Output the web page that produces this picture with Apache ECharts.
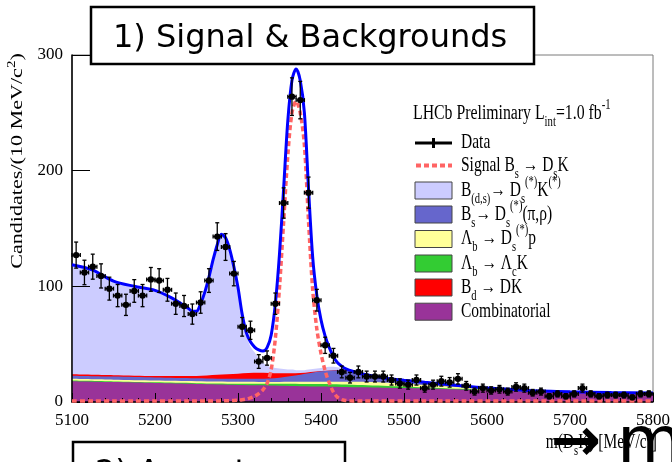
<!DOCTYPE html>
<html><head><meta charset="utf-8">
<script src="https://cdn.jsdelivr.net/npm/echarts@6/dist/echarts.min.js"></script>
<style>html,body{margin:0;padding:0;background:#fff}#c{width:672px;height:462px}</style>
</head><body><div id="c"></div>
<script>
// ---- Data: m(Ds K) histogram, 10 MeV bins ----
const binCenters = [5105,5115,5125,5135,5145,5155,5165,5175,5185,5195,5205,5215,5225,5235,5245,5255,5265,5275,5285,5295,
  5305,5315,5325,5335,5345,5355,5365,5375,5385,5395,5405,5415,5425,5435,5445,5455,5465,5475,5485,5495,
  5505,5515,5525,5535,5545,5555,5565,5575,5585,5595,5605,5615,5625,5635,5645,5655,5665,5675,5685,5695,
  5705,5715,5725,5735,5745,5755,5765,5775,5785,5795];
const candidates = [127,112,117,109,98,92,84,96,92,106,105,97,85,83,76,86,105,143,134,111,
  65,62,35,38,85,172,264,261,181,88,49,40,26,21,26,22,22,22,19,16,
  15,19,12,15,18,17,20,14,9,12,10,11,9,13,12,8,9,5,7,5,
  7,12,7,5,6,6,6,4,7,7];

// ---- Fit curves (read on a mass grid) ----
const fineMass = [5100,5125,5150,5175,5200,5220,5240,5245,5250,5255,5260,5265,5270,5275,5280,5285,5290,5295,5300,
  5305,5310,5315,5320,5325,5330,5335,5340,5345,5350,5355,5360,5365,5370,5375,5380,5385,5390,5395,5400,
  5405,5410,5415,5420,5425,5430,5435,5440,5445,5450,5475,5500,5525,5550,5575,5600,5650,5700,5750,5800];
const fitTotal = [118.6,114,104.5,100,96.5,90,81,78.5,78.5,85,95,108,123,136,145,142,132,117,99,
  76,60,52,47.5,45,44,47,58,85,128,185,243,278,288,278,250,184,125,92,71,
  57,47,39,34,31,28.6,27.3,26.2,25.2,24.2,20.8,18.8,17,15.3,13.6,12,10,8.9,8.2,7.8];
const signalBsDsK = [0.8,0.8,0.8,0.8,0.8,0.8,0.8,0.8,0.8,0.8,0.8,0.8,0.8,0.9,1,1.1,1.2,1.4,1.6,
  2,2.6,3.6,5,7.2,10.5,16,28,55,99,156,213,250,260,250,222,156,97,63,42,
  27,16.5,8.5,4,2,1.3,1,0.9,0.8,0.8,0.8,0.8,0.8,0.8,0.8,0.8,0.8,0.8,0.8,0.8];
// cumulative upper edge of the B(d,s) -> Ds(*) K(*) band
const topDsKstar = [118.6,114,104.5,100,96.5,90,81,78.5,78.5,85,95,108,123,136,145,141,131,115.5,97.5,
  73,57.5,48,43,38,34,31.5,30,29.5,29,28.5,28,28,27.5,27.5,27.5,28,28.5,29,29.5,
  30,30.5,30.5,30,29.3,28.2,27.1,26.1,25.1,24.1,20.7,18.7,16.9,15.2,13.5,11.9,9.9,8.8,8.1,7.7];

// ---- Cumulative upper edges of the lower background bands ----
const coarseMass = [5100,5150,5200,5250,5275,5300,5325,5350,5375,5400,5425,5450,5475,5500,5550,5600,5650,5700,5750,5800];
const topBdDK   = [24,23.2,22.5,22.5,23.5,24.5,25.2,24.8,25,26.7,27.7,23.6,20.4,18.5,15.1,11.8,9.8,8.7,8.0,7.6];
const topDsPi   = [22.8,22,21.2,20.5,20.2,20,20,21,23.5,26.5,27.5,23.5,20.3,18.4,15,11.8,9.8,8.7,8.0,7.6];
const topLbDsp  = [20,19.3,18.6,18,17.7,17.4,17.3,17.3,17.4,17.6,17.6,17.4,16.8,15.8,13.6,11.2,9.6,8.6,7.9,7.3];
const topLbLcK  = [18.5,17.8,17.0,16.3,16.0,15.8,15.7,15.7,15.6,15.5,15.2,14.7,14.0,13.3,11.8,10.4,9.3,8.4,7.7,7.1];
const topComb   = [18,17.2,16.4,15.6,15.2,14.8,14.4,14,13.6,13.3,13,12.7,12.4,12.1,11.3,10.2,9.2,8.3,7.6,7];

const legendLabels = ['Data','Signal B{sb|s} → D{sb|s}K','B{sb|(d,s)}→ D{sb|s}{sp|(*)}K{sp|(*)}','B{sb|s}→ D{sb|s}{sp|(*)}(π,ρ)',
  'Λ{sb|b} → D{sb|s}{sp|(*)}p','Λ{sb|b} → Λ{sb|c}K','B{sb|d} → DK','Combinatorial'];
const headerText = 'LHCb Preliminary L{sb|int}=1.0 fb{sp|-1}';
const yTitle = 'Candidates/(10 MeV/c{sp|2})';
const xTitle = 'm(D{sb|s}K) [MeV/c{sp|2}]';

// ---- Styling ----
const serif = '"Liberation Serif", "Times New Roman", serif';
const sans = '"DejaVu Sans", Verdana, sans-serif';
const C = {lav:'#ccccff', dspi:'#6666cc', yel:'#ffff99', grn:'#33cc33', red:'#ff0000', pur:'#993399', fit:'#0000ff', sig:'#ff6464'};
const pairs = (xs, ys) => xs.map((x, i) => [x, ys[i]]);

function band(name, xs, ys, color) {
  return {type:'line', name, data:pairs(xs, ys), smooth:0.3, symbol:'none', showSymbol:false,
    lineStyle:{width:0}, areaStyle:{color, opacity:1}, z:1, silent:true};
}
function richFor(size) {
  return {
    sb:{fontSize:size*0.68, fontFamily:serif, fill:'#000', lineHeight:4, verticalAlign:'bottom'},
    sp:{fontSize:size*0.68, fontFamily:serif, fill:'#000', lineHeight:18, verticalAlign:'top'}
  };
}
function stext(x, y, text, size, opts) {
  return Object.assign({type:'text', x, y, z:50, silent:true, style:Object.assign({
    text, fontSize:size, fontFamily:serif, fill:'#000', lineHeight:24, align:'left', verticalAlign:'middle',
    rich:richFor(size)}, (opts && opts.style) || {})}, (opts && opts.el) || {});
}

const graphics = [];
// legend
const lx = 415, lw = 37, tx = 461;
const rowY = [143, 165.5, 190.5, 214.5, 239, 263.5, 287.5, 311.7];
const boxColors = [null, null, C.lav, C.dspi, C.yel, C.grn, C.red, C.pur];
graphics.push(stext(413, 114, headerText, 15.8, {el:{scaleY:1.3}}));
graphics.push({type:'line', z:50, shape:{x1:lx, y1:rowY[0], x2:lx+lw, y2:rowY[0]}, style:{stroke:'#000', lineWidth:3}});
graphics.push({type:'line', z:50, shape:{x1:lx+lw/2, y1:rowY[0]-5, x2:lx+lw/2, y2:rowY[0]+5}, style:{stroke:'#000', lineWidth:3}});
graphics.push({type:'line', z:50, shape:{x1:lx+1, y1:rowY[1], x2:lx+lw, y2:rowY[1]}, style:{stroke:C.sig, lineWidth:4, lineDash:[5,3]}});
for (let i = 2; i < 8; i++) {
  graphics.push({type:'rect', z:50, shape:{x:lx, y:rowY[i]-8.5, width:lw, height:17}, style:{fill:boxColors[i], stroke:'#444', lineWidth:1}});
}
legendLabels.forEach((t, i) => graphics.push(stext(tx, rowY[i], t, 15.5, {el:{scaleY:1.3}})));
// axis titles
graphics.push(stext(18, 161, yTitle, 17, {el:{rotation:Math.PI/2, scaleX:1.3}, style:{align:'center'}}));
graphics.push(stext(657, 443, xTitle, 15.5, {el:{scaleY:1.3}, style:{align:'right'}}));
// slide overlays
graphics.push({type:'rect', z:60, shape:{x:91, y:7, width:443, height:57}, style:{fill:'#fff', stroke:'#000', lineWidth:2.5}});
graphics.push({type:'text', z:61, x:113, y:39, style:{text:'1) Signal & Backgrounds', fontSize:32, fontFamily:sans, fill:'#000', verticalAlign:'middle'}});
graphics.push({type:'rect', z:60, shape:{x:73, y:442, width:272, height:40}, style:{fill:'#fff', stroke:'#000', lineWidth:2.5}});
graphics.push({type:'text', z:61, x:95, y:474, style:{text:'2) Acceptance', fontSize:32, fontFamily:sans, fill:'#000', verticalAlign:'middle'}});
graphics.push({type:'text', z:62, x:551, y:444, style:{text:'→', fontSize:60, fontWeight:'bold', fontFamily:sans, fill:'#000', verticalAlign:'middle'}});
graphics.push({type:'text', z:62, x:617, y:480, style:{text:'m', fontSize:68, fontFamily:sans, fill:'#000', verticalAlign:'bottom'}});

const option = {
  animation:false,
  backgroundColor:'#fff',
  grid:{left:72, right:19, top:55, bottom:60, show:true, borderColor:'#7a7a7a', borderWidth:1, outerBoundsMode:'none'},
  xAxis:{type:'value', min:5100, max:5800, interval:100, z:3,
    axisLine:{show:true, onZero:false, lineStyle:{color:'#000', width:1.5}},
    axisTick:{show:true, inside:true, length:9, lineStyle:{color:'#000', width:1}},
    minorTick:{show:true, splitNumber:5, length:4, lineStyle:{color:'#000', width:1}},
    splitLine:{show:false}, minorSplitLine:{show:false},
    axisLabel:{color:'#000', fontSize:17, fontFamily:serif, margin:10, showMinLabel:true, showMaxLabel:true,
      formatter:function(v){ return String(v); }}},
  yAxis:{type:'value', min:0, max:300, interval:100, z:3,
    axisLine:{show:true, lineStyle:{color:'#000', width:1.5}},
    axisTick:{show:true, inside:true, length:18, lineStyle:{color:'#000', width:1}},
    splitLine:{show:false},
    axisLabel:{color:'#000', fontSize:17, fontFamily:serif, margin:9}},
  series:[
    band('B(d,s) → Ds(*) K(*)', fineMass, topDsKstar, C.lav),
    band('Bd → DK', coarseMass, topBdDK, C.red),
    band('Bs → Ds(*)(π,ρ)', coarseMass, topDsPi, C.dspi),
    band('Λb → Ds(*) p', coarseMass, topLbDsp, C.yel),
    band('Λb → Λc K', coarseMass, topLbLcK, C.grn),
    band('Combinatorial', coarseMass, topComb, C.pur),
    {type:'line', name:'Signal Bs → Ds K', data:pairs(fineMass, signalBsDsK), smooth:0.3, symbol:'none', z:4,
      lineStyle:{color:C.sig, width:3.5, type:[5,3]}},
    {type:'line', name:'Fit', data:pairs(fineMass, fitTotal), smooth:0.3, symbol:'none', z:5,
      lineStyle:{color:C.fit, width:3}},
    {type:'custom', name:'Data', data:pairs(binCenters, candidates), z:6, encode:{x:0, y:1},
      renderItem:function(params, api){
        const x = api.value(0), n = api.value(1), e = Math.sqrt(n);
        const c = api.coord([x, n]), t = api.coord([x, n + e]), b = api.coord([x, n - e]);
        const l = api.coord([x - 5, n]), r = api.coord([x + 5, n]);
        const ls = {stroke:'#000', lineWidth:1.3};
        return {type:'group', children:[
          {type:'line', shape:{x1:c[0], y1:t[1], x2:c[0], y2:b[1]}, style:ls},
          {type:'line', shape:{x1:l[0], y1:c[1], x2:r[0], y2:c[1]}, style:ls},
          {type:'line', shape:{x1:c[0]-2, y1:t[1], x2:c[0]+2, y2:t[1]}, style:ls},
          {type:'line', shape:{x1:c[0]-2, y1:b[1], x2:c[0]+2, y2:b[1]}, style:ls},
          {type:'line', shape:{x1:l[0], y1:c[1]-2, x2:l[0], y2:c[1]+2}, style:ls},
          {type:'line', shape:{x1:r[0], y1:c[1]-2, x2:r[0], y2:c[1]+2}, style:ls},
          {type:'circle', shape:{cx:c[0], cy:c[1], r:3.2}, style:{fill:'#000'}}
        ]};
      }}
  ],
  graphic:{elements:graphics}
};
const chart = echarts.init(document.getElementById('c'));
chart.setOption(option);
</script></body></html>
